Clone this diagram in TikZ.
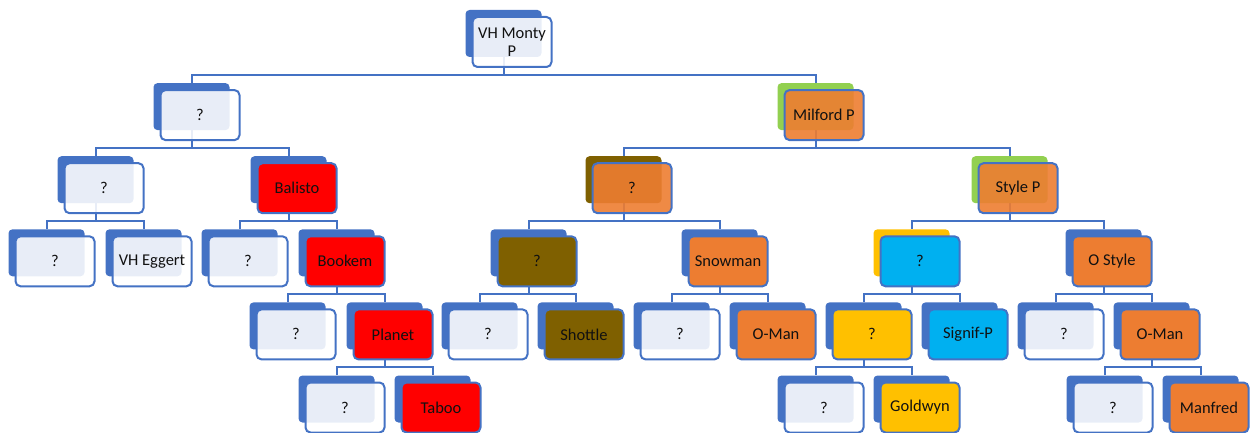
\documentclass[tikz,border=0pt]{standalone}
\usepackage{fontspec}
\setmainfont{Carlito}
\usetikzlibrary{calc,backgrounds}

\definecolor{hblue}{HTML}{4472C4}
\definecolor{horange}{HTML}{ED7D31}
\definecolor{hgreen}{HTML}{92D050}
\definecolor{hbrown}{HTML}{7F6000}
\definecolor{hyellow}{HTML}{FFC000}
\definecolor{hcyan}{HTML}{00B0F0}
\definecolor{hred}{HTML}{FF0000}
\definecolor{htext}{HTML}{111111}

\tikzset{
  backbox/.style={rectangle, rounded corners=4pt, minimum width=76pt,
    minimum height=47pt, inner sep=0pt, draw=none},
  frontbox/.style={rectangle, rounded corners=5pt, draw=hblue, line width=2pt,
    minimum width=79pt, minimum height=50pt, inner sep=2pt, text=htext,
    text opacity=1, align=center,
    font=\fontsize{16.5}{18.5}\selectfont},
  conn/.style={draw=hblue, line width=2pt},
}

% \pnode{name}{x}{level}{back colour}{front colour}{front opacity}{label}
\newcommand{\pnode}[7]{%
  \node[backbox, fill=#4] (#1-b) at (#2-8.5, 42+73.1*#3-8.5) {};
  \node[frontbox, fill=#5, fill opacity=#6] (#1) at (#2, 42+73.1*#3) {#7};
}
% \link{parent}{child}: elbow connector through the bus under the parent
\newcommand{\link}[2]{%
  \draw[conn] (#1-b.center) |- ($(#1.south)+(0,7)$) -| (#2-b.north);
}

\begin{document}
\begin{tikzpicture}[x=1pt,y=-1pt]
\useasboundingbox (0,0) rectangle (1253,433);

% level 0
\pnode{monty}{512}{0}{hblue}{white}{0.88}{VH Monty\\P}
% level 1
\pnode{a}{200}{1}{hblue}{white}{0.88}{?}
\pnode{milford}{824}{1}{hgreen}{horange}{0.9}{Milford P}
% level 2
\pnode{aa}{104}{2}{hblue}{white}{0.88}{?}
\pnode{balisto}{297}{2}{hblue}{hred}{1}{Balisto}
\pnode{oq}{632}{2}{hbrown}{horange}{0.9}{?}
\pnode{style}{1018}{2}{hgreen}{horange}{0.9}{Style P}
% level 3
\pnode{aaa}{55}{3}{hblue}{white}{0.88}{?}
\pnode{eggert}{152}{3}{hblue}{white}{0.88}{VH Eggert}
\pnode{bq}{248}{3}{hblue}{white}{0.88}{?}
\pnode{bookem}{345}{3}{hblue}{hred}{1}{Bookem}
\pnode{brq}{537}{3}{hblue}{hbrown}{1}{?}
\pnode{snowman}{728}{3}{hblue}{horange}{1}{Snowman}
\pnode{bluq}{920}{3}{hyellow}{hcyan}{1}{?}
\pnode{ostyle}{1112}{3}{hblue}{horange}{1}{O Style}
% level 4
\pnode{bkq}{296}{4}{hblue}{white}{0.88}{?}
\pnode{planet}{393}{4}{hblue}{hred}{1}{Planet}
\pnode{brkq}{488}{4}{hblue}{white}{0.88}{?}
\pnode{shottle}{584}{4}{hblue}{hbrown}{1}{Shottle}
\pnode{snq}{680}{4}{hblue}{white}{0.88}{?}
\pnode{omana}{776}{4}{hblue}{horange}{1}{O-Man}
\pnode{yq}{872}{4}{hblue}{hyellow}{1}{?}
\pnode{signif}{968}{4}{hblue}{hcyan}{1}{Signif-P}
\pnode{osq}{1064}{4}{hblue}{white}{0.88}{?}
\pnode{omanb}{1160}{4}{hblue}{horange}{1}{O-Man}
% level 5
\pnode{plq}{345}{5}{hblue}{white}{0.88}{?}
\pnode{taboo}{441}{5}{hblue}{hred}{1}{Taboo}
\pnode{yyq}{824}{5}{hblue}{white}{0.88}{?}
\pnode{goldwyn}{920}{5}{hblue}{hyellow}{1}{Goldwyn}
\pnode{omq}{1113}{5}{hblue}{white}{0.88}{?}
\pnode{manfred}{1209}{5}{hblue}{horange}{1}{Manfred}

\begin{pgfonlayer}{background}
\link{monty}{a}       \link{monty}{milford}
\link{a}{aa}          \link{a}{balisto}
\link{aa}{aaa}        \link{aa}{eggert}
\link{balisto}{bq}    \link{balisto}{bookem}
\link{bookem}{bkq}    \link{bookem}{planet}
\link{planet}{plq}    \link{planet}{taboo}
\link{milford}{oq}    \link{milford}{style}
\link{oq}{brq}        \link{oq}{snowman}
\link{brq}{brkq}      \link{brq}{shottle}
\link{snowman}{snq}   \link{snowman}{omana}
\link{style}{bluq}    \link{style}{ostyle}
\link{bluq}{yq}       \link{bluq}{signif}
\link{yq}{yyq}        \link{yq}{goldwyn}
\link{ostyle}{osq}    \link{ostyle}{omanb}
\link{omanb}{omq}     \link{omanb}{manfred}
\end{pgfonlayer}
\end{tikzpicture}
\end{document}
